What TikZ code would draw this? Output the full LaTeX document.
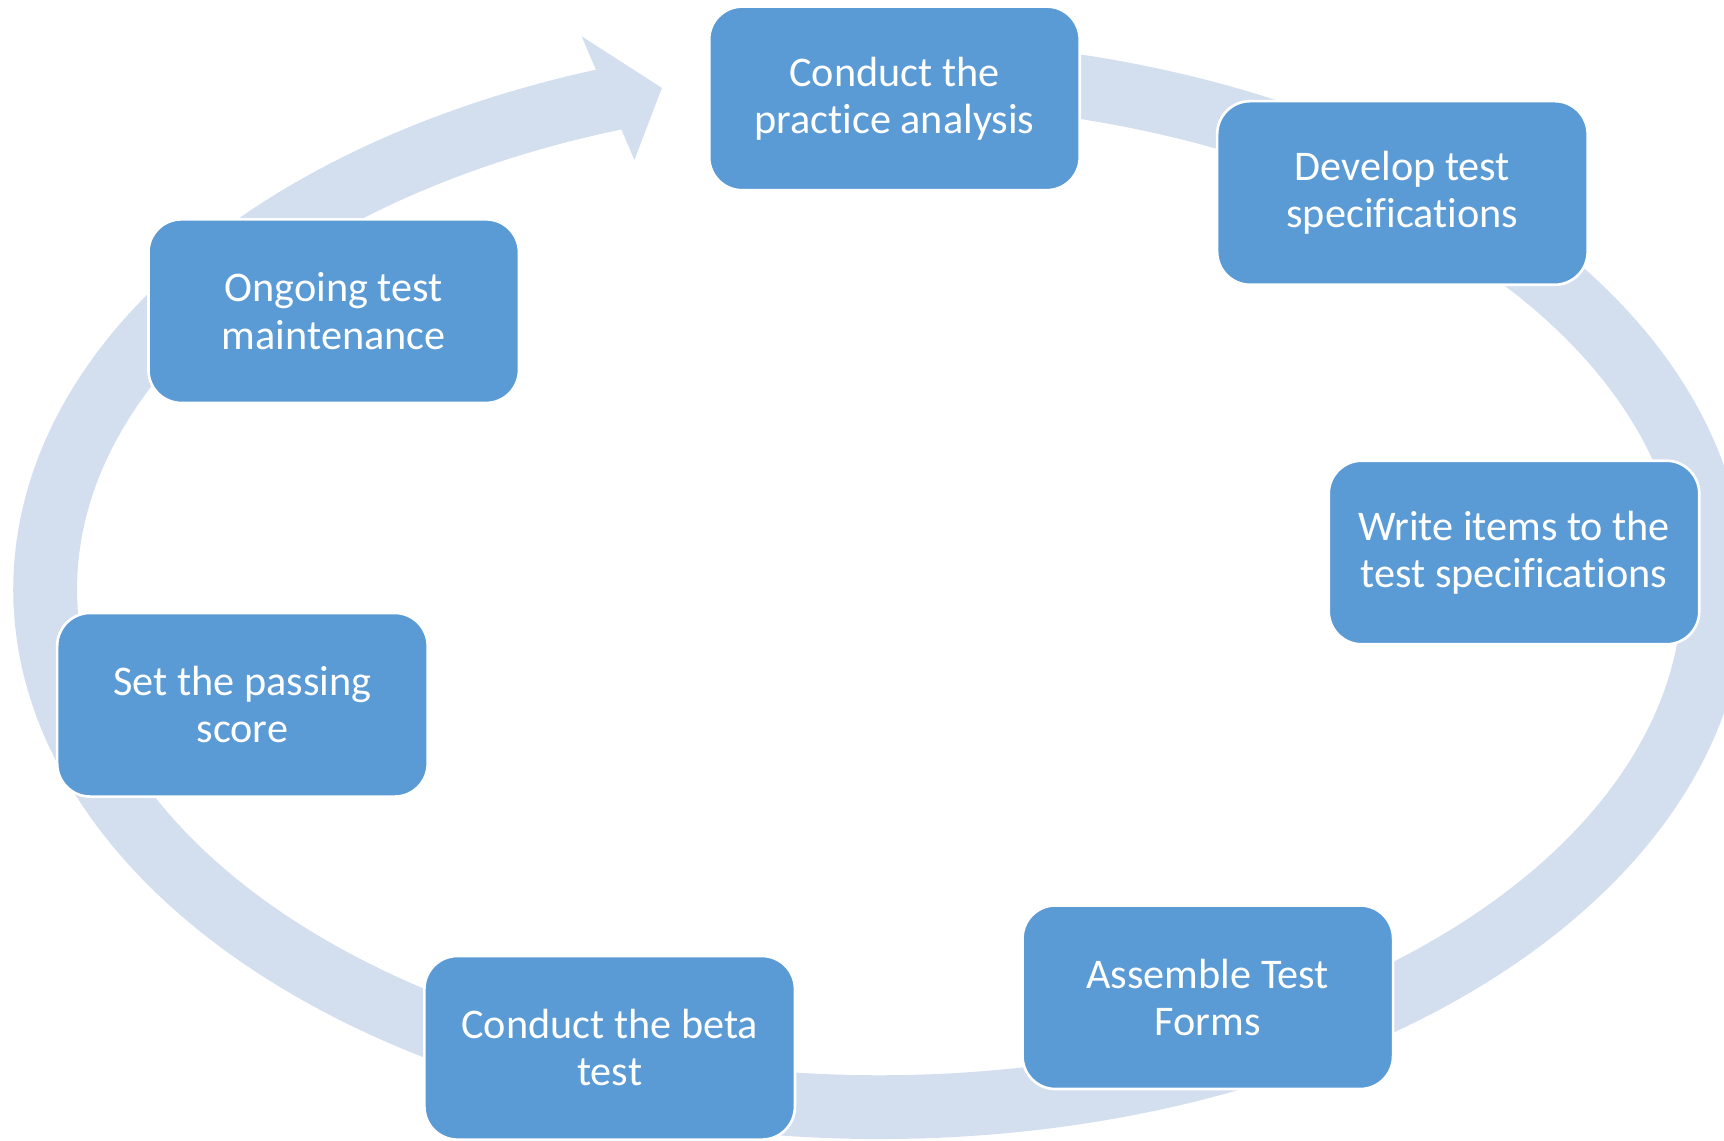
\documentclass[tikz,border=0pt]{standalone}
\usepackage{fontspec}
\setmainfont{Carlito}[Ligatures={NoCommon}]
\definecolor{ringc}{HTML}{D3DEEF}
\definecolor{boxc}{HTML}{5B9BD5}
\begin{document}
\begin{tikzpicture}[x=0.5pt,y=-0.5pt,
  stepbox/.style={draw=white, line width=1.2pt, fill=boxc, rounded corners=15pt,
    minimum width=168.5pt, minimum height=83.5pt, text=white, align=center,
    font=\fontsize{19.2pt}{21.5pt}\selectfont, inner sep=0pt}]
\useasboundingbox (0,0) rectangle (1568,1037.7);
% ring arrow
\draw[ringc, line width=29pt] plot[domain=262.4:612.5, samples=300]
  ({800+759*cos(\x)},{536+471*sin(\x)});
\fill[ringc] (529,33) -- (602,80) -- (577,145.5) -- cycle;
% steps
\node[stepbox] (s1) at (813.5,89.5) {Conduct the\\practice analysis};
\node[stepbox] (s2) at (1275.5,175.5) {Develop test\\specifications};
\node[stepbox] (s3) at (1377,502.5) {Write items to the\\test specifications};
\node[stepbox] (s4) at (1098.5,907) {Assemble Test\\Forms};
\node[stepbox] (s5) at (554.5,953) {Conduct the beta\\test};
\node[stepbox] (s6) at (220.5,641) {Set the passing\\score};
\node[stepbox] (s7) at (303.5,283) {Ongoing test\\maintenance};
\end{tikzpicture}
\end{document}
